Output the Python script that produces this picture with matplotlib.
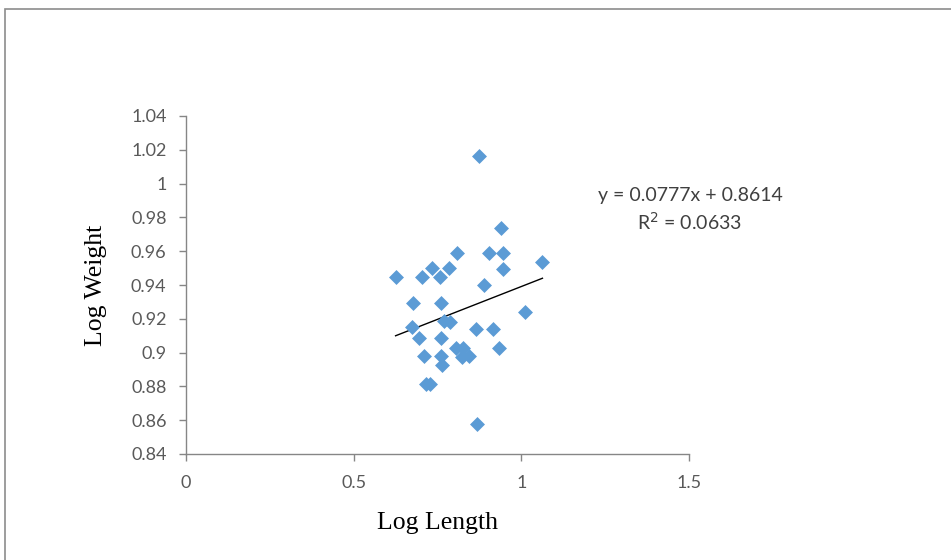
import matplotlib
matplotlib.use("Agg")
import matplotlib.pyplot as plt
from matplotlib.patches import Rectangle
import numpy as np

# dados (log do comprimento, log do peso)
log_length = [0.873, 0.940, 0.807, 0.904, 0.946, 1.063, 0.733, 0.785,
              0.946, 0.625, 0.703, 0.758, 0.889, 0.676, 0.760, 1.011,
              0.768, 0.787, 0.675, 0.864, 0.915, 0.696, 0.760, 0.934,
              0.805, 0.826, 0.822, 0.845, 0.710, 0.760, 0.763, 0.715,
              0.728, 0.867]
log_weight = [1.0163, 0.9735, 0.9588, 0.9588, 0.9588, 0.9538, 0.9499, 0.9499,
              0.9495, 0.9445, 0.9445, 0.9445, 0.9400, 0.9292, 0.9292, 0.9238,
              0.9189, 0.9183, 0.9150, 0.9138, 0.9138, 0.9085, 0.9085, 0.9025,
              0.9025, 0.9030, 0.8975, 0.8980, 0.8980, 0.8980, 0.8925, 0.8815,
              0.8815, 0.8576]

slope = 0.0777
intercept = 0.8614
r2 = 0.0633

x_ticks = [0, 0.5, 1, 1.5]
y_ticks = [0.84, 0.86, 0.88, 0.9, 0.92, 0.94, 0.96, 0.98, 1.0, 1.02, 1.04]

fig = plt.figure(figsize=(9.51, 5.6), dpi=100)
ax = fig.add_axes([186/951, 1 - 454/560, (689 - 186)/951, (454 - 116)/560])

ax.scatter(log_length, log_weight, marker="D", s=58, color="#5B9BD5",
           linewidths=0, zorder=3)

# linha de tendência linear
xs = np.array([min(log_length), max(log_length)])
ax.plot(xs, slope*xs + intercept, color="black", linewidth=1, zorder=2)

ax.set_xlim(0, 1.5)
ax.set_ylim(0.84, 1.04)
ax.set_xticks(x_ticks)
ax.set_yticks(y_ticks)
ax.set_xticklabels([f"{v:g}" for v in x_ticks])
ax.set_yticklabels([f"{v:g}" for v in y_ticks])

for side in ["top", "right"]:
    ax.spines[side].set_visible(False)
for side in ["left", "bottom"]:
    ax.spines[side].set_color("#868686")
    ax.spines[side].set_linewidth(1)
ax.tick_params(colors="#868686", labelcolor="#595959", labelsize=13,
               length=5, width=1)
ax.tick_params(axis="y", pad=9)
ax.tick_params(axis="x", pad=10)
for lbl in ax.get_xticklabels() + ax.get_yticklabels():
    lbl.set_family("Lato")

ax.set_xlabel("Log Length", fontsize=18.5, family="Liberation Serif",
              labelpad=15)
ax.set_ylabel("Log Weight", fontsize=18.5, family="Liberation Serif",
              labelpad=17)

fig.text(690/951, 1 - 195/560, f"y = {slope}x + {intercept}", ha="center",
         va="center", fontsize=14, family="Lato", color="#404040")
fig.text(690/951, 1 - 222/560, f"R$^2$ = {r2}", ha="center", va="center",
         fontsize=14, family="Lato", color="#404040")

# moldura do gráfico
fig.add_artist(Rectangle((5/951, -0.1), 2, 1 - 9/560 + 0.1,
                         transform=fig.transFigure, fill=False,
                         edgecolor="#8c8c8c", linewidth=1.2))

fig.savefig("out.png", dpi=100)
